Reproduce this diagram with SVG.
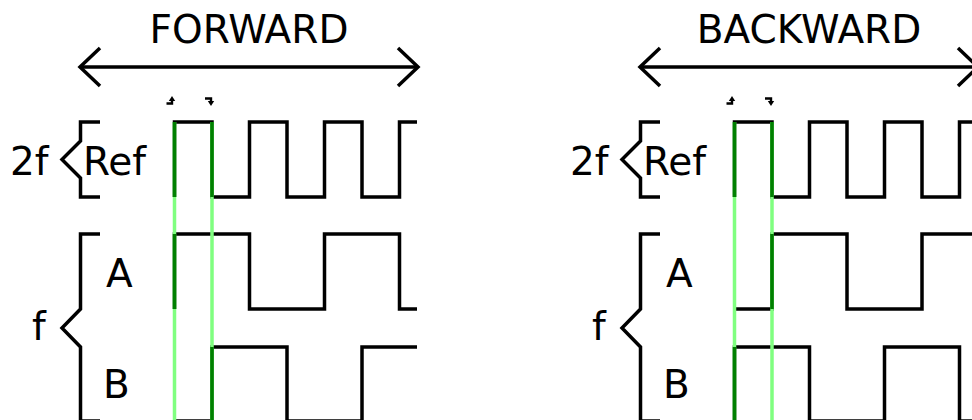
<svg xmlns="http://www.w3.org/2000/svg" width="972" height="420" viewBox="0 0 972 420">
  <style>
    .wave { fill: none; stroke: #000; stroke-width: 3.5; stroke-linejoin: miter; stroke-linecap: butt; }
    .brace { fill: none; stroke: #000; stroke-width: 3.5; stroke-linejoin: miter; }
    .axis { fill: none; stroke: #000; stroke-width: 3.5; }
    .edge-lo { fill: none; stroke: #80ff80; stroke-width: 3.5; }
    .edge-hi { fill: none; stroke: #008000; stroke-width: 3.5; }
    .tick { fill: none; stroke: #000; stroke-width: 2.4; }
    .lbl { font-family: "DejaVu Sans", Verdana, sans-serif; font-size: 39px; fill: #000; }
    .title { font-family: "DejaVu Sans", Verdana, sans-serif; font-size: 39px; fill: #000; text-anchor: middle; }
  </style>
  <defs>
    <!-- small rising / falling edge indicators -->
    <g id="rise-mark">
      <path class="tick" d="M166.5,103.5 H172 V100"/>
      <polygon points="168.8,101 175.2,101 172,96" fill="#000"/>
    </g>
    <g id="fall-mark">
      <path class="tick" d="M205,98.5 H211 V102"/>
      <polygon points="207.8,101 214.2,101 211,106" fill="#000"/>
    </g>
  </defs>

  <!-- Forward rotation panel -->
  <g id="forward">
    <text class="title" x="249" y="43">FORWARD</text>
    <g id="fwd-direction" class="axis">
      <path d="M80,67 H418"/>
      <path d="M100,48 L80,67 L100,86"/>
      <path d="M398,48 L418,67 L398,86"/>
    </g>
    <use href="#rise-mark"/>
    <use href="#fall-mark"/>
    <g id="fwd-labels">
      <text class="lbl" x="10" y="175">2f</text>
      <text class="lbl" x="83" y="175">Ref</text>
      <text class="lbl" x="106" y="287">A</text>
      <text class="lbl" x="32" y="340">f</text>
      <text class="lbl" x="103" y="398">B</text>
      <path class="brace" d="M100,122 H80.5 V141 L62,159.5 L80.5,178 V197 H100"/>
      <path class="brace" d="M100,234 H80.5 V309 L62,328 L80.5,347 V421 H100"/>
    </g>
    <g id="fwd-signals">
      <path id="fwd-ref" class="wave" d="M174.5,197 V122 H212 V197 H249.5 V122 H287 V197 H324.5 V122 H362 V197 H399.5 V122 H417"/>
      <path id="fwd-a" class="wave" d="M174.5,309 V234 H249.5 V309 H324.5 V234 H399.5 V309 H417"/>
      <path id="fwd-b" class="wave" d="M174.5,421 H212 V347 H287 V421 H362 V347 H417"/>
    </g>
    <g id="fwd-edges">
      <path class="edge-lo" d="M174.5,122 V422 M212,122 V422"/>
      <path class="edge-hi" d="M174.5,122 V197 M174.5,234 V309 M212,122 V197 M212,347 V422"/>
    </g>
  </g>

  <!-- Backward rotation panel -->
  <g id="backward" transform="translate(560,0)">
    <text class="title" x="249" y="43">BACKWARD</text>
    <g id="bwd-direction" class="axis">
      <path d="M80,67 H418"/>
      <path d="M100,48 L80,67 L100,86"/>
      <path d="M398,48 L418,67 L398,86"/>
    </g>
    <use href="#rise-mark"/>
    <use href="#fall-mark"/>
    <g id="bwd-labels">
      <text class="lbl" x="10" y="175">2f</text>
      <text class="lbl" x="83" y="175">Ref</text>
      <text class="lbl" x="106" y="287">A</text>
      <text class="lbl" x="32" y="340">f</text>
      <text class="lbl" x="103" y="398">B</text>
      <path class="brace" d="M100,122 H80.5 V141 L62,159.5 L80.5,178 V197 H100"/>
      <path class="brace" d="M100,234 H80.5 V309 L62,328 L80.5,347 V421 H100"/>
    </g>
    <g id="bwd-signals">
      <path id="bwd-ref" class="wave" d="M174.5,197 V122 H212 V197 H249.5 V122 H287 V197 H324.5 V122 H362 V197 H399.5 V122 H417"/>
      <path id="bwd-a" class="wave" d="M174.5,309 H212 V234 H287 V309 H362 V234 H417"/>
      <path id="bwd-b" class="wave" d="M174.5,421 V347 H249.5 V421 H324.5 V347 H399.5 V421 H417"/>
    </g>
    <g id="bwd-edges">
      <path class="edge-lo" d="M174.5,122 V422 M212,122 V422"/>
      <path class="edge-hi" d="M174.5,122 V197 M174.5,347 V422 M212,122 V197 M212,234 V309"/>
    </g>
  </g>
</svg>
